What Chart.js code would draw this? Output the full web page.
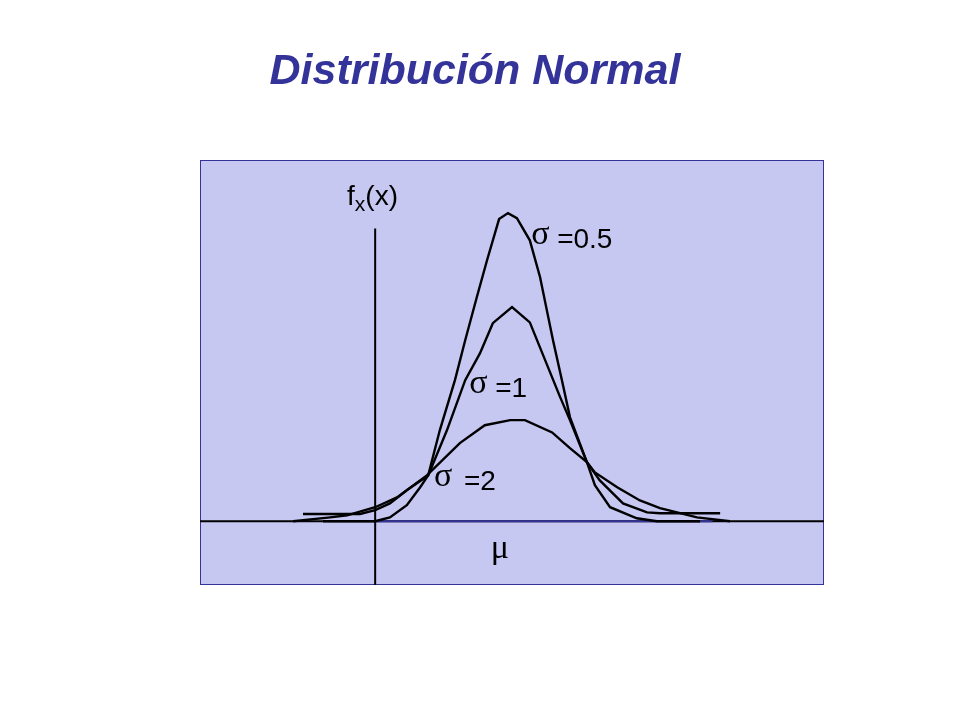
<!DOCTYPE html>
<html>
<head>
<meta charset="utf-8">
<title>Distribución Normal</title>
<script src="https://cdn.jsdelivr.net/npm/chart.js@4/dist/chart.umd.min.js"></script>
<style>
  html, body { margin: 0; padding: 0; background: #fff; }
  #wrap { position: absolute; left: 0; top: 0; width: 960px; height: 720px; }
</style>
</head>
<body>
<div id="wrap"><canvas id="chart" width="960" height="720"></canvas></div>
<script>
// Curvas (x: μ = 0, y: altura de f_x)
const xSigma05 = [-4.24, -3.07, -2.74, -2.36, -2.06, -1.88, -1.62, -1.28, -1.05, -0.79, -0.56, -0.29, -0.09, 0.11, 0.40, 0.63, 0.92, 1.12, 1.30, 1.68, 1.86, 2.20, 2.80, 3.25, 4.22];
const ySigma05 = [0, 0, 0.009, 0.038, 0.080, 0.108, 0.214, 0.332, 0.426, 0.527, 0.614, 0.711, 0.725, 0.713, 0.661, 0.574, 0.426, 0.332, 0.245, 0.139, 0.085, 0.033, 0.007, 0, 0];

const xSigma1 = [-4.69, -3.41, -3.07, -2.74, -2.36, -1.88, -1.46, -1.05, -0.72, -0.43, 0, 0.40, 1.08, 1.30, 1.48, 1.68, 1.97, 2.49, 3.03, 3.32, 4.67];
const ySigma1 = [0.017, 0.017, 0.026, 0.042, 0.073, 0.108, 0.214, 0.332, 0.395, 0.466, 0.504, 0.468, 0.292, 0.238, 0.191, 0.139, 0.096, 0.042, 0.021, 0.019, 0.019];

const xSigma2 = [-4.91, -4.08, -3.70, -3.07, -2.58, -1.91, -1.17, -0.61, -0.04, 0.29, 0.90, 1.30, 1.68, 1.86, 2.36, 2.87, 3.32, 3.77, 4.15, 4.89];
const ySigma2 = [0, 0.009, 0.014, 0.033, 0.056, 0.108, 0.184, 0.226, 0.238, 0.238, 0.209, 0.172, 0.139, 0.115, 0.080, 0.049, 0.031, 0.019, 0.009, 0];

const sigmaLabels = ['=0.5', '=1', '=2'];
const titleText = 'Distribución Normal';

const X_MIN = -7, X_MAX = 7, Y_MIN = -0.15, Y_MAX = 0.85;
const Y_AXIS_X = -3.07, Y_AXIS_TOP = 0.689;

const toPoints = (xs, ys) => xs.map((x, i) => ({ x: x, y: ys[i] }));

const INK = '#000000';
const NAVY = '#333399';
const LAVENDER = '#c6c8f2';
const SANS = '"Liberation Sans", Arial, sans-serif';
const SERIF = '"Liberation Serif", "Times New Roman", serif';

// Fondo y marco del recuadro
const boxPlugin = {
  id: 'box',
  beforeDraw(chart) {
    const a = chart.chartArea, ctx = chart.ctx;
    ctx.save();
    ctx.fillStyle = LAVENDER;
    ctx.fillRect(a.left, a.top, a.right - a.left, a.bottom - a.top);
    ctx.strokeStyle = NAVY;
    ctx.lineWidth = 1;
    ctx.strokeRect(a.left + 0.5, a.top + 0.5, a.right - a.left - 1, a.bottom - a.top - 1);
    ctx.restore();
  }
};

// Título y rótulos
const textPlugin = {
  id: 'texts',
  afterDraw(chart) {
    const ctx = chart.ctx, xs = chart.scales.x, ys = chart.scales.y;
    ctx.save();
    ctx.textBaseline = 'alphabetic';

    ctx.fillStyle = NAVY;
    ctx.font = 'italic bold 43px ' + SANS;
    ctx.textAlign = 'center';
    ctx.fillText(titleText, 475, 84);

    ctx.fillStyle = INK;
    ctx.textAlign = 'left';

    // f_x(x)
    let px = xs.getPixelForValue(-3.70), py = ys.getPixelForValue(0.744);
    ctx.font = '28px ' + SANS;
    ctx.fillText('f', px, py);
    let w = ctx.measureText('f').width;
    ctx.font = '21px ' + SANS;
    ctx.fillText('x', px + w, py + 6);
    let w2 = ctx.measureText('x').width;
    ctx.font = '28px ' + SANS;
    ctx.fillText('(x)', px + w + w2, py);

    // σ = ...
    const anchors = [[0.43, 0.642], [-0.96, 0.292], [-1.75, 0.073]];
    anchors.forEach((p, i) => {
      const lx = xs.getPixelForValue(p[0]), ly = ys.getPixelForValue(p[1]);
      ctx.font = '34px ' + SERIF;
      ctx.fillText('σ', lx, ly - 4);
      ctx.font = '28px ' + SANS;
      ctx.fillText(sigmaLabels[i], lx + (i === 2 ? 30 : 26), ly);
    });

    // μ
    ctx.font = '34px ' + SERIF;
    ctx.textAlign = 'center';
    ctx.fillText('μ', xs.getPixelForValue(-0.27), ys.getPixelForValue(-0.087));
    ctx.restore();
  }
};

const curve = (data) => ({
  data: data,
  showLine: true,
  borderColor: INK,
  borderWidth: 2.4,
  pointRadius: 0,
  tension: 0,
  fill: false,
  order: 0
});

new Chart(document.getElementById('chart'), {
  type: 'scatter',
  data: {
    datasets: [
      curve(toPoints(xSigma05, ySigma05)),
      curve(toPoints(xSigma1, ySigma1)),
      curve(toPoints(xSigma2, ySigma2)),
      { // eje vertical
        data: [{ x: Y_AXIS_X, y: Y_MIN }, { x: Y_AXIS_X, y: Y_AXIS_TOP }],
        showLine: true, borderColor: INK, borderWidth: 2, pointRadius: 0, order: 0
      },
      { // tramo azul del eje horizontal
        data: [{ x: Y_AXIS_X, y: 0 }, { x: 4.5, y: 0 }],
        showLine: true, borderColor: NAVY, borderWidth: 2, pointRadius: 0, order: 1
      },
      { // eje horizontal
        data: [{ x: X_MIN, y: 0 }, { x: X_MAX, y: 0 }],
        showLine: true, borderColor: INK, borderWidth: 2, pointRadius: 0, order: 2
      }
    ]
  },
  options: {
    responsive: false,
    animation: false,
    layout: { padding: { left: 200, right: 136, top: 160, bottom: 135 } },
    plugins: { legend: { display: false }, tooltip: { enabled: false }, title: { display: false } },
    scales: {
      x: { type: 'linear', min: X_MIN, max: X_MAX, display: false },
      y: { type: 'linear', min: Y_MIN, max: Y_MAX, display: false }
    }
  },
  plugins: [boxPlugin, textPlugin]
});
</script>
</body>
</html>
